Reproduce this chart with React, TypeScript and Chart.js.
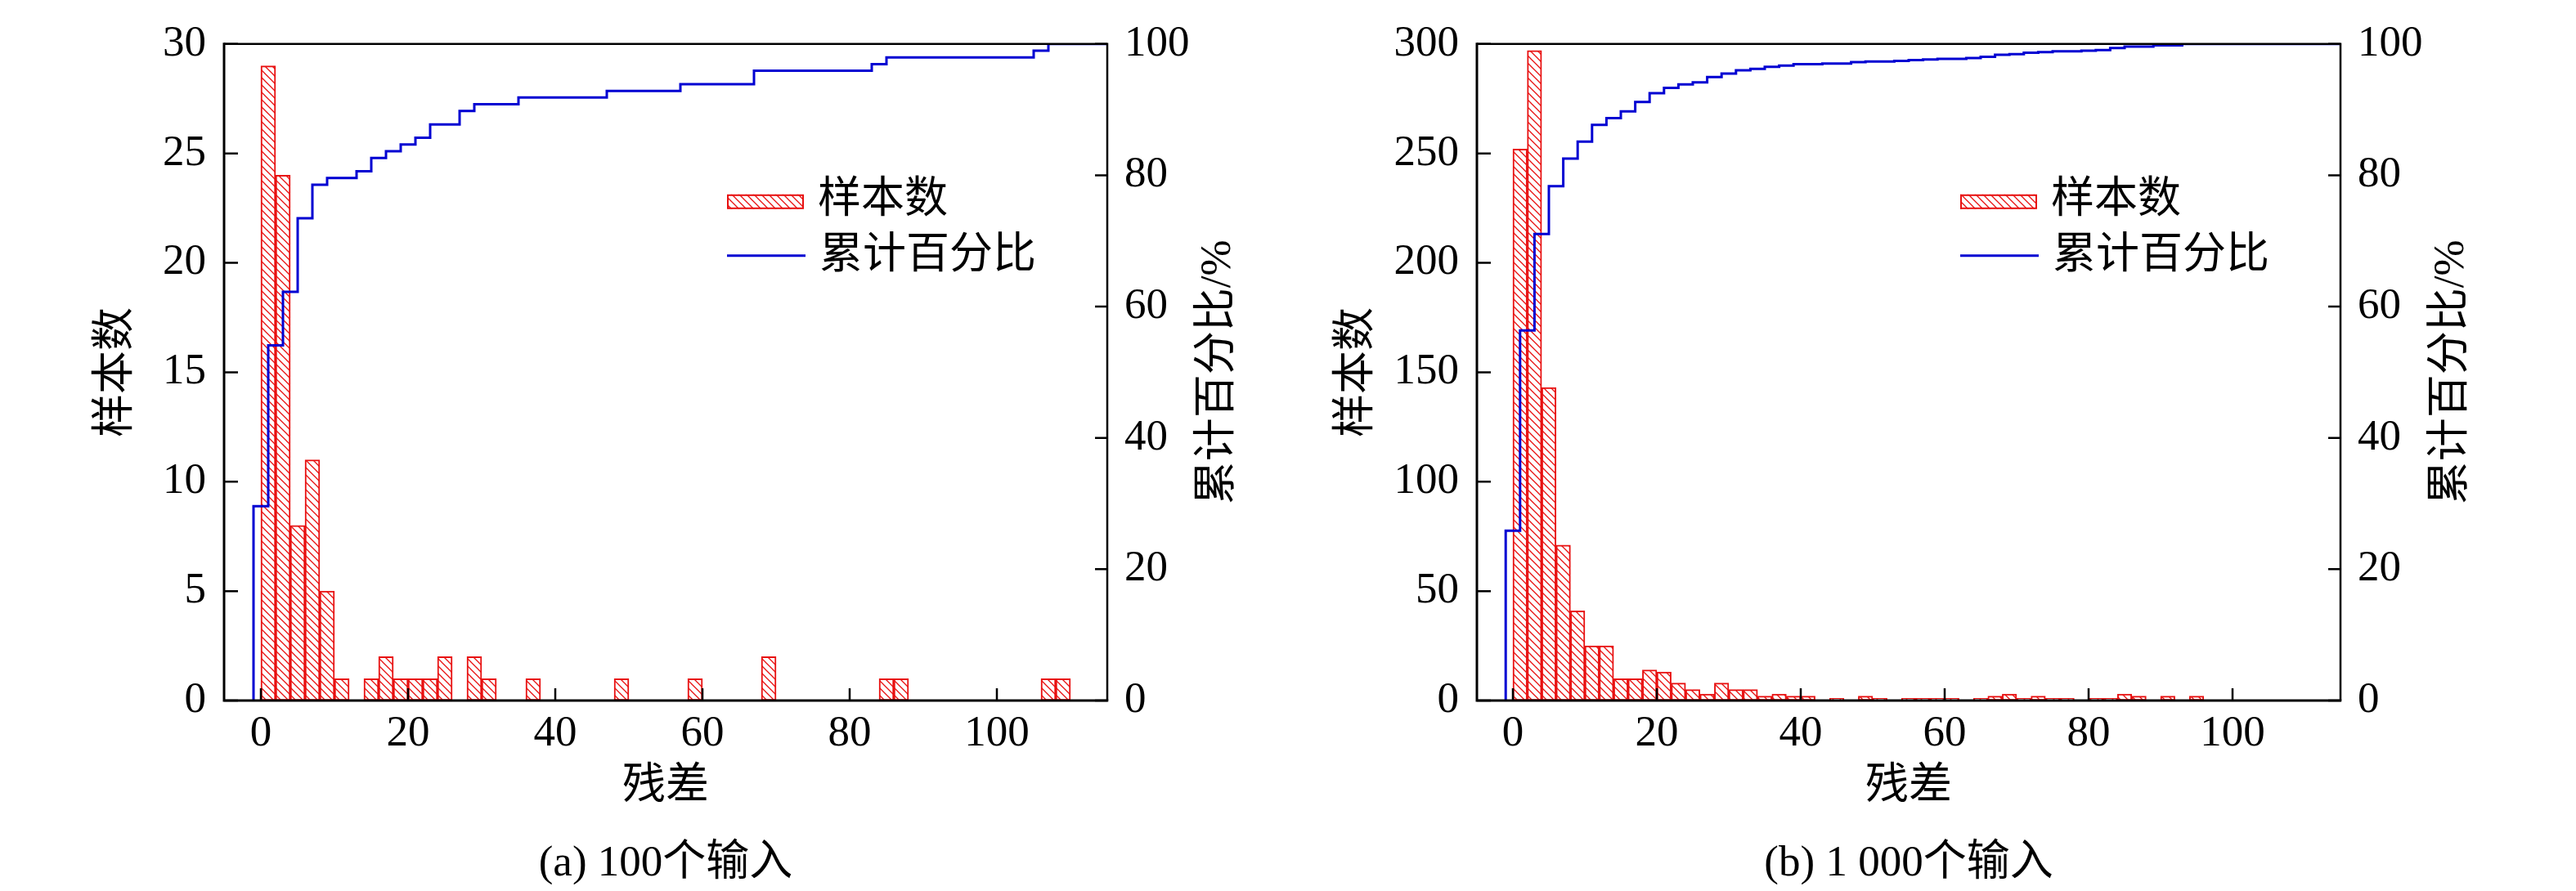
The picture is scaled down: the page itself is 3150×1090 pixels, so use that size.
import React, { useEffect, useRef } from 'react';
import { Chart, registerables } from 'chart.js';

Chart.register(...registerables);

// ---------- data ----------
// (a) 100 inputs: left edges of 2-wide residual bins that hold samples, and their counts
const binStartsA = [0, 2, 4, 6, 8, 10, 14, 16, 18, 20, 22, 24, 28, 30, 36, 48, 58, 68, 84, 86, 106, 108];
const countsA = [29, 24, 8, 11, 5, 1, 1, 2, 1, 1, 1, 2, 2, 1, 1, 1, 1, 2, 1, 1, 1, 1];

// (b) 1 000 inputs
const binStartsB = [0, 2, 4, 6, 8, 10, 12, 14, 16, 18, 20, 22, 24, 26, 28, 30, 32, 34, 36, 38, 40, 44, 48, 50, 54, 56, 58, 60, 64, 66, 68, 70, 72, 74, 76, 80, 82, 84, 86, 90, 94];
const countsB = [252, 297, 143, 71, 41, 25, 25, 10, 10, 14, 13, 8, 5, 3, 8, 5, 5, 2, 3, 2, 2, 1, 2, 1, 1, 1, 1, 1, 1, 2, 3, 1, 2, 1, 1, 1, 1, 3, 2, 2, 2];

const BIN_WIDTH = 2;
const STEP_SHIFT = -1; // cumulative curve steps one unit left of each bin's start
const X_MIN = -5;
const X_MAX = 115;
const xTickValues = [0, 20, 40, 60, 80, 100];
const countTicksA = [0, 5, 10, 15, 20, 25, 30];
const countTicksB = [0, 50, 100, 150, 200, 250, 300];
const pctTicks = [0, 20, 40, 60, 80, 100];

const X_TITLE = '残差';
const Y_TITLE = '样本数';
const Y2_TITLE = '累计百分比/%';
const LEGEND_BAR = '样本数';
const LEGEND_LINE = '累计百分比';
const CAPTION_A = '(a) 100个输入';
const CAPTION_B = '(b) 1 000个输入';

const RED = '#e81010';
const BLUE = '#0000d2';
const FONT_FAMILY = "'Liberation Serif', 'Times New Roman', 'Noto Sans CJK SC', serif";
const FONT_SIZE = 53;

Chart.defaults.font.family = FONT_FAMILY;
Chart.defaults.font.size = FONT_SIZE;
Chart.defaults.color = '#000';

function makeHatch(ctx: CanvasRenderingContext2D) {
  const p = document.createElement('canvas');
  p.width = 9;
  p.height = 9;
  const c = p.getContext('2d')!;
  c.fillStyle = '#ffffff';
  c.fillRect(0, 0, 9, 9);
  c.strokeStyle = RED;
  c.lineWidth = 1.3;
  c.beginPath();
  c.moveTo(-2, -2);
  c.lineTo(11, 11);
  c.moveTo(-2, 7);
  c.lineTo(2, 11);
  c.moveTo(7, -2);
  c.lineTo(11, 2);
  c.stroke();
  return ctx.createPattern(p, 'repeat')!;
}

type PanelProps = {
  binStarts: number[];
  counts: number[];
  countTicks: number[];
  caption: string;
  leftWidth: number;
  rightWidth: number;
  yTitleOffset: number;
  offsetLeft: number;
};

const W = 1575;
const H = 1090;
const TOP = 32;
const XAXIS_H = 233;

function Panel(props: PanelProps) {
  const ref = useRef<HTMLCanvasElement | null>(null);

  useEffect(() => {
    const canvas = ref.current!;
    const ctx = canvas.getContext('2d')!;
    const hatch = makeHatch(ctx);
    const { binStarts, counts, countTicks } = props;
    const total = counts.reduce((a, b) => a + b, 0);

    const barData = binStarts.map((s, i) => ({ x: s + BIN_WIDTH / 2, y: counts[i] }));
    const linePts: { x: number; y: number }[] = [];
    let cum = 0;
    binStarts.forEach((s, i) => {
      const prev = (cum / total) * 100;
      cum += counts[i];
      linePts.push({ x: s + STEP_SHIFT, y: prev });
      linePts.push({ x: s + STEP_SHIFT, y: (cum / total) * 100 });
    });
    linePts.push({ x: X_MAX, y: (cum / total) * 100 });

    const font = { family: FONT_FAMILY, size: FONT_SIZE, weight: 'normal' };

    const decor = {
      id: 'decor',
      afterDatasetsDraw(chart: any) {
        const c = chart.ctx as CanvasRenderingContext2D;
        const { left, right, top, bottom } = chart.chartArea;
        const xs = chart.scales.x;
        const ys = chart.scales.y;
        const y2 = chart.scales.y2;
        c.save();
        c.strokeStyle = '#000';
        c.lineWidth = 2.5;
        c.beginPath();
        xTickValues.forEach((v) => {
          const px = xs.getPixelForValue(v);
          c.moveTo(px, bottom);
          c.lineTo(px, bottom - 15);
        });
        countTicks.forEach((v) => {
          const py = ys.getPixelForValue(v);
          c.moveTo(left, py);
          c.lineTo(left + 17, py);
        });
        pctTicks.forEach((v) => {
          const py = y2.getPixelForValue(v);
          c.moveTo(right, py);
          c.lineTo(right - 15, py);
        });
        c.stroke();
        c.lineWidth = 2.5;
        c.beginPath();
        c.moveTo(left, top);
        c.lineTo(right, top);
        c.lineTo(right, bottom);
        c.stroke();
        c.lineWidth = 3;
        c.beginPath();
        c.moveTo(left, top - 1.5);
        c.lineTo(left, bottom);
        c.lineTo(right + 1.25, bottom);
        c.stroke();
        c.restore();
      },
      afterDraw(chart: any) {
        const c = chart.ctx as CanvasRenderingContext2D;
        const { left, right, top, bottom } = chart.chartArea;
        const cx = (left + right) / 2;
        const cy = (top + bottom) / 2;
        c.save();
        c.fillStyle = '#000';
        c.font = `${FONT_SIZE}px ${FONT_FAMILY}`;
        c.textAlign = 'center';
        c.textBaseline = 'middle';
        c.fillText(X_TITLE, cx, bottom + 106);
        c.fillText(props.caption, cx, bottom + 200);

        c.save();
        c.translate(left - props.yTitleOffset, cy);
        c.rotate(-Math.PI / 2);
        c.fillText(Y_TITLE, 0, 0);
        c.restore();

        c.save();
        c.translate(right + 136, cy);
        c.rotate(-Math.PI / 2);
        c.fillText(Y2_TITLE, 0, 0);
        c.restore();

        // legend
        const bx = right - 465;
        c.fillStyle = hatch;
        c.fillRect(bx, top + 184, 94, 18);
        c.strokeStyle = RED;
        c.lineWidth = 2;
        c.strokeRect(bx + 1, top + 185, 92, 16);
        c.strokeStyle = BLUE;
        c.lineWidth = 3;
        c.beginPath();
        c.moveTo(bx, top + 259);
        c.lineTo(bx + 96, top + 259);
        c.stroke();
        c.fillStyle = '#000';
        c.textAlign = 'left';
        c.fillText(LEGEND_BAR, right - 354, top + 192);
        c.fillText(LEGEND_LINE, right - 352, top + 260);
        c.restore();
      },
    };

    const chart = new Chart(ctx, {
      type: 'bar',
      data: {
        datasets: [
          {
            type: 'bar',
            label: LEGEND_BAR,
            data: barData,
            backgroundColor: hatch,
            borderColor: RED,
            borderWidth: 2,
            borderSkipped: false,
            barPercentage: 1,
            categoryPercentage: 1,
            xAxisID: 'x',
            yAxisID: 'y',
            order: 1,
          } as any,
          {
            type: 'line',
            label: LEGEND_LINE,
            data: linePts,
            borderColor: BLUE,
            borderWidth: 3,
            pointRadius: 0,
            tension: 0,
            fill: false,
            xAxisID: 'x',
            yAxisID: 'y2',
            order: 0,
          } as any,
        ],
      },
      options: {
        animation: false,
        responsive: false,
        devicePixelRatio: 1,
        events: [],
        font,
        layout: { padding: { top: TOP, left: 0, right: 0, bottom: 0 } },
        plugins: { legend: { display: false }, tooltip: { enabled: false } },
        scales: {
          x: {
            type: 'linear',
            min: X_MIN,
            max: X_MAX,
            offset: false,
            grid: { display: false, drawTicks: false },
            border: { display: false },
            ticks: { color: '#000', font, padding: 9, maxRotation: 0, autoSkip: false },
            afterBuildTicks: (s: any) => {
              s.ticks = xTickValues.map((v) => ({ value: v }));
            },
            afterFit: (s: any) => {
              s.height = XAXIS_H;
            },
          },
          y: {
            type: 'linear',
            position: 'left',
            min: countTicks[0],
            max: countTicks[countTicks.length - 1],
            grid: { display: false, drawTicks: false },
            border: { display: false },
            ticks: { color: '#000', font, padding: 22, autoSkip: false },
            afterBuildTicks: (s: any) => {
              s.ticks = countTicks.map((v) => ({ value: v }));
            },
            afterFit: (s: any) => {
              s.width = props.leftWidth;
            },
          },
          y2: {
            type: 'linear',
            position: 'right',
            min: 0,
            max: 100,
            grid: { display: false, drawTicks: false },
            border: { display: false },
            ticks: { color: '#000', font, padding: 21, autoSkip: false },
            afterBuildTicks: (s: any) => {
              s.ticks = pctTicks.map((v) => ({ value: v }));
            },
            afterFit: (s: any) => {
              s.width = props.rightWidth;
            },
          },
        },
      } as any,
      plugins: [decor],
    });
    return () => chart.destroy();
  }, []);

  return (
    <canvas
      ref={ref}
      width={W}
      height={H}
      style={{ position: 'absolute', left: props.offsetLeft, top: 0, width: W, height: H }}
    />
  );
}

export default function App() {
  return (
    <div style={{ position: 'absolute', left: 0, top: 0, width: 3150, height: 1090, background: '#fff', overflow: 'hidden' }}>
      <Panel
        binStarts={binStartsA}
        counts={countsA}
        countTicks={countTicksA}
        caption={CAPTION_A}
        leftWidth={274}
        rightWidth={W - 1354}
        yTitleOffset={131}
        offsetLeft={0}
      />
      <Panel
        binStarts={binStartsB}
        counts={countsB}
        countTicks={countTicksB}
        caption={CAPTION_B}
        leftWidth={1806 - W}
        rightWidth={W - (2862 - W)}
        yTitleOffset={146}
        offsetLeft={W}
      />
    </div>
  );
}
